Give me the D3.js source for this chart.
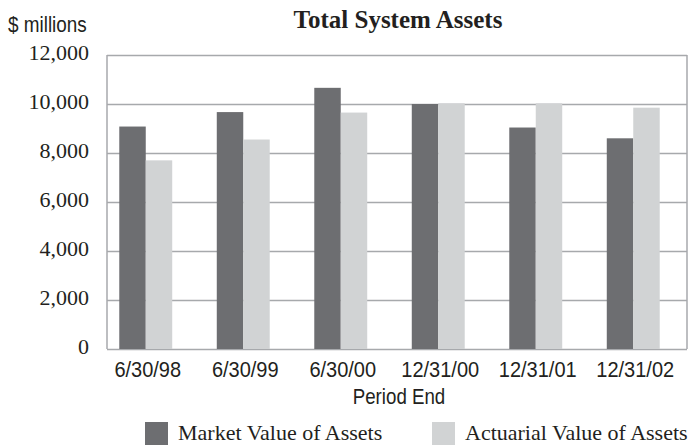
<!doctype html>
<html lang="en">
<head>
<meta charset="utf-8">
<title>Total System Assets</title>
<script src="https://cdn.jsdelivr.net/npm/d3@7"></script>
<style>
    body { margin: 0; background: #fff; }
    .grid line { stroke: #a7a9ac; stroke-width: 1.5px; }
    .grid path { display: none; }
    .serif { font-family: "Liberation Serif", "Times New Roman", serif; fill: #231f20; }
    .narrow { font-family: "Liberation Sans", Arial, sans-serif; fill: #231f20; font-size: 22px; }
</style>
</head>
<body>
<svg width="691" height="447"></svg>
<script>
    // data
    var periods = ["6/30/98", "6/30/99", "6/30/00", "12/31/00", "12/31/01", "12/31/02"];
    var series = ["Market Value of Assets", "Actuarial Value of Assets"];
    var marketValue = [9080, 9670, 10660, 10000, 9040, 8600];
    var actuarialValue = [7700, 8550, 9650, 10030, 10030, 9850];
    var yTicks = [0, 2000, 4000, 6000, 8000, 10000, 12000];

    var colors = ["#6d6e71", "#d1d3d4"];

    var svg = d3.select("svg");
    var margin = {left: 107, top: 55, right: 4, bottom: 98};
    var width = 691 - margin.left - margin.right;
    var height = 447 - margin.top - margin.bottom;

    // condensed sans look: squeeze Liberation Sans horizontally
    function squeeze(x, y, s) {
        return "translate(" + x + "," + y + ") scale(" + s + ",1)";
    }

    var g = svg.append("g")
        .attr("transform", "translate(" + margin.left + "," + margin.top + ")");

    var yScale = d3.scaleLinear()
        .domain([0, 12000])
        .range([height, 0]);

    // bar groups sit a little left of the frame, like the original
    var xScale = d3.scaleBand()
        .domain(periods)
        .range([-10, width - 5])
        .paddingInner(0.457)
        .paddingOuter(0.2285);

    var xSub = d3.scaleBand()
        .domain(series)
        .range([0, xScale.bandwidth()]);

    // gridlines
    g.append("g")
        .attr("class", "grid")
        .call(d3.axisLeft(yScale)
            .tickValues(yTicks)
            .tickSize(-width)
            .tickFormat(""));

    // frame sides
    g.append("line").attr("x1", 0).attr("x2", 0).attr("y1", 0).attr("y2", height)
        .attr("stroke", "#a7a9ac").attr("stroke-width", 1.5);
    g.append("line").attr("x1", width).attr("x2", width).attr("y1", 0).attr("y2", height)
        .attr("stroke", "#a7a9ac").attr("stroke-width", 1.5);

    // y tick labels
    g.append("g")
        .selectAll("text")
        .data(yTicks)
        .enter().append("text")
        .attr("class", "serif")
        .attr("x", -18)
        .attr("y", function(d) { return yScale(d); })
        .attr("dy", "0.24em")
        .attr("text-anchor", "end")
        .style("font-size", "22px")
        .text(function(d) { return d3.format(",")(d); });

    // bars
    var rows = periods.map(function(p, i) {
        return {period: p, values: [marketValue[i], actuarialValue[i]]};
    });

    var groups = g.append("g")
        .selectAll("g")
        .data(rows)
        .enter().append("g")
        .attr("transform", function(d) { return "translate(" + xScale(d.period) + ",0)"; });

    groups.selectAll("rect")
        .data(function(d) { return d.values.map(function(v, i) { return {key: series[i], value: v, i: i}; }); })
        .enter().append("rect")
        .attr("x", function(d) { return xSub(d.key); })
        .attr("width", xSub.bandwidth())
        .attr("y", function(d) { return yScale(d.value); })
        .attr("height", function(d) { return height - yScale(d.value); })
        .attr("fill", function(d) { return colors[d.i]; });

    // x labels
    g.append("g")
        .selectAll("text")
        .data(periods)
        .enter().append("text")
        .attr("class", "narrow")
        .attr("transform", function(d) { return squeeze(xScale(d) + xScale.bandwidth() / 2 + 2, height + 28, 0.91); })
        .attr("text-anchor", "middle")
        .text(function(d) { return d; });

    g.append("text")
        .attr("class", "narrow")
        .attr("transform", squeeze(width / 2 + 2, height + 55, 0.85))
        .attr("text-anchor", "middle")
        .text("Period End");

    // title + unit
    svg.append("text")
        .attr("class", "serif")
        .attr("x", 398)
        .attr("y", 28)
        .attr("text-anchor", "middle")
        .style("font-size", "25px")
        .style("font-weight", "bold")
        .text("Total System Assets");

    svg.append("text")
        .attr("class", "narrow")
        .attr("transform", squeeze(8, 31.5, 0.86))
        .text("$ millions");

    // legend
    var legendX = [145, 432];
    var legend = svg.append("g")
        .selectAll("g")
        .data(series)
        .enter().append("g")
        .attr("transform", function(d, i) { return "translate(" + legendX[i] + ",422)"; });

    legend.append("rect")
        .attr("width", 23)
        .attr("height", 23)
        .attr("fill", function(d, i) { return colors[i]; });

    legend.append("text")
        .attr("class", "serif")
        .attr("x", 33)
        .attr("y", 18)
        .style("font-size", "22px")
        .text(function(d) { return d; });
</script>
</body>
</html>
